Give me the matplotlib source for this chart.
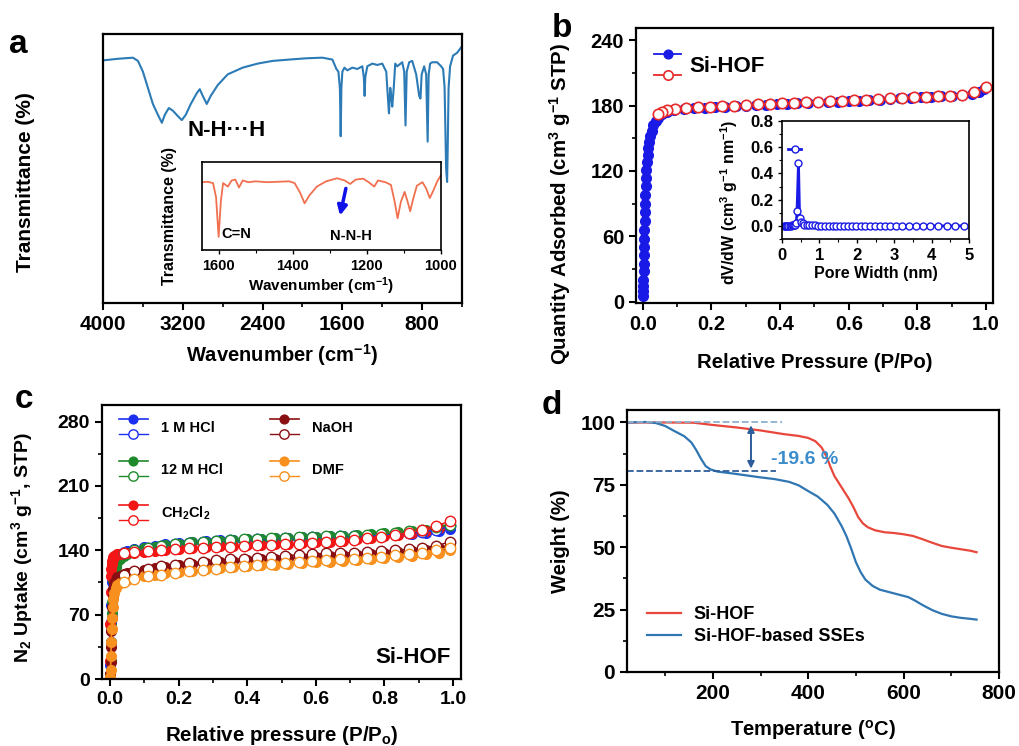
import matplotlib
matplotlib.use("Agg")
import matplotlib.pyplot as plt
from matplotlib.legend_handler import HandlerBase
from matplotlib.lines import Line2D
from matplotlib.ticker import MultipleLocator

plt.rcParams['font.family'] = ['Liberation Sans', 'DejaVu Sans']
plt.rcParams['font.weight'] = 'bold'
plt.rcParams['axes.labelweight'] = 'bold'
plt.rcParams['mathtext.fontset'] = 'custom'
plt.rcParams['mathtext.rm'] = 'Liberation Sans:bold'
plt.rcParams['mathtext.it'] = 'Liberation Sans:bold'
plt.rcParams['mathtext.bf'] = 'Liberation Sans:bold'
plt.rcParams['mathtext.default'] = 'rm'

# ---- panel a: FTIR ----
ftir_wn = [4000, 3850, 3700, 3650, 3600, 3550, 3500, 3450, 3410, 3380, 3340, 3300,
           3250, 3210, 3170, 3120, 3060, 3030, 3000, 2960, 2920, 2850, 2750, 2600,
           2450, 2300, 2100, 1950, 1800, 1700, 1660, 1640, 1625, 1617, 1610, 1600,
           1580, 1550, 1500, 1450, 1400, 1385, 1377, 1370, 1350, 1300, 1250, 1200,
           1160, 1150, 1133, 1120, 1110, 1100, 1085, 1070, 1050, 1000, 980, 967,
           955, 930, 900, 860, 830, 817, 805, 780, 760, 745, 735, 720, 700, 650,
           610, 590, 575, 560, 550, 545, 535, 520, 490, 450, 400]
ftir_t = [90.2, 90.8, 91.2, 90, 86, 80, 74, 70, 67, 70, 72.5, 71.5,
          69.5, 68, 70, 74, 78, 79.5, 77, 74, 77, 81, 85, 87.5,
          89, 90, 90.6, 91, 91.2, 90.5, 87, 86, 80, 62, 80, 86,
          87.5, 86.5, 87.5, 87, 88, 84, 77, 84, 88, 89, 88.5, 89,
          86, 80, 70.5, 80, 77, 73, 80, 89, 88, 89.5, 86, 66,
          86, 89.5, 90, 85, 77, 76, 85, 88, 85, 60, 85, 89, 89.5, 89.5,
          88, 87, 80, 50, 45, 55, 80, 88, 92, 93, 95.5]

inset_wn = [1645, 1630, 1615, 1607, 1600, 1594, 1588, 1575, 1565, 1555, 1545, 1535,
            1520, 1500, 1470, 1440, 1410, 1395, 1380, 1368, 1355, 1335, 1310, 1280,
            1260, 1245, 1230, 1210, 1195, 1180, 1170, 1150, 1135, 1125, 1117, 1108,
            1098, 1090, 1083, 1075, 1065, 1050, 1040, 1030, 1020, 1010, 1000]
inset_t = [77, 77.5, 76, 60, 15, 55, 76, 72, 79, 80, 71, 79,
           77, 78, 77, 77.5, 78, 76, 65, 53, 62, 72, 78, 81.5,
           79, 75, 80, 81, 77, 72, 79, 77, 74, 55, 36, 55,
           66, 55, 44, 58, 73, 77, 70, 59, 68, 78, 85]

# ---- panel b: N2 isotherm of Si-HOF ----
b_ads_p = [0.0005, 0.001, 0.0012, 0.0015, 0.002, 0.0025, 0.003, 0.0035, 0.004, 0.0045,
           0.005, 0.0055, 0.006, 0.007, 0.008, 0.009, 0.010, 0.012, 0.014, 0.016,
           0.019, 0.022, 0.026, 0.031, 0.037, 0.045, 0.055, 0.07, 0.09, 0.12,
           0.15, 0.18, 0.21, 0.24, 0.27, 0.30, 0.33, 0.36, 0.39, 0.42, 0.45, 0.48,
           0.51, 0.54, 0.57, 0.60, 0.63, 0.66, 0.69, 0.72, 0.75, 0.78, 0.81, 0.84,
           0.87, 0.90, 0.93, 0.96, 0.98, 0.995]
b_ads_q = [5, 10, 15, 20, 28, 35, 43, 50, 58, 66,
           74, 82, 90, 98, 106, 114, 121, 128, 135, 141,
           147, 152, 157, 162, 166, 169, 172, 174.5, 176, 177,
           177.5, 178, 178.5, 179, 179.5, 180, 180.3, 180.7, 181, 181.5, 182, 182.4,
           182.8, 183.2, 183.6, 184, 184.5, 185, 185.5, 186, 186.5, 187, 187.5, 188,
           188.5, 189, 190, 191, 192, 195]
b_des_p = [1.0, 0.965, 0.93, 0.895, 0.86, 0.825, 0.79, 0.755, 0.72, 0.685, 0.65,
           0.615, 0.58, 0.545, 0.51, 0.475, 0.44, 0.405, 0.37, 0.335, 0.30,
           0.265, 0.23, 0.195, 0.16, 0.125, 0.095, 0.07, 0.055, 0.045]
b_des_q = [197, 192, 190, 189, 188.5, 188, 187.5, 187, 186.5, 186, 185.5,
           185, 184.5, 184, 183.5, 183, 182.5, 182, 181.5, 181, 180.5,
           180, 179.5, 179, 178.5, 178, 177, 176, 174, 172]

pore_w = [0.05, 0.08, 0.11, 0.14, 0.17, 0.2, 0.23, 0.26, 0.29, 0.32, 0.35, 0.38,
          0.40, 0.44, 0.47, 0.5, 0.55, 0.6, 0.66, 0.72, 0.8, 0.88, 0.96, 1.05,
          1.15, 1.25, 1.35, 1.45, 1.55, 1.65, 1.76, 1.87, 1.98, 2.1, 2.22, 2.35,
          2.48, 2.62, 2.76, 2.9, 3.06, 3.22, 3.4, 3.58, 3.77, 3.97, 4.18, 4.4,
          4.63, 4.87]
pore_dv = [0, 0, 0, 0, 0, 0, 0, 0.005, 0.005, 0.01, 0.01, 0.02,
           0.11, 0.48, 0.06, 0.03, 0.02, 0.01, 0.01, 0.01, 0.005, 0.005, 0, 0,
           0, 0, 0, 0, 0, 0, 0, 0, 0, 0, 0, 0,
           0, 0, 0, 0, 0, 0, 0, 0, 0, 0, 0, 0,
           0, 0]

# ---- panel c: stability isotherms ----
c_ads_p = [0.0005, 0.001, 0.002, 0.003, 0.004, 0.005, 0.006, 0.008, 0.010, 0.013,
           0.017, 0.022, 0.03, 0.04, 0.05, 0.07, 0.10, 0.13, 0.16, 0.20,
           0.24, 0.28, 0.32, 0.36, 0.40, 0.44, 0.48, 0.52, 0.56, 0.60,
           0.64, 0.68, 0.72, 0.76, 0.80, 0.84, 0.88, 0.92, 0.96, 0.99]
c_des_p = [0.99, 0.95, 0.91, 0.87, 0.83, 0.79, 0.75, 0.71, 0.67, 0.63, 0.59, 0.55,
           0.51, 0.47, 0.43, 0.39, 0.35, 0.31, 0.27, 0.23, 0.19, 0.15, 0.11, 0.07, 0.04]

hcl1_ads = [2, 15, 40, 62, 80, 95, 105, 115, 121, 126, 130, 133, 136, 138, 139.5,
            141.5, 143.5, 145, 146.5, 148, 149, 150, 150.8, 151.5, 152, 152.5, 153,
            153.5, 154, 154.5, 155, 155.5, 156, 156.5, 157, 157.5, 158, 159, 160.5, 163]
hcl1_des = [166, 162, 160, 158.5, 157.5, 156.5, 156, 155.5, 155, 154.5, 154, 153.5,
            153, 152.5, 152, 151.5, 151, 150, 149, 148, 146.5, 145, 143, 140.5, 137]
hcl12_ads = [0, 5, 20, 40, 58, 72, 84, 98, 108, 116, 122, 127, 131, 134, 136,
             139, 142, 144, 145.5, 147, 148.5, 149.5, 150.5, 151.5, 152, 152.5, 153,
             153.5, 154, 154.5, 155, 156, 156.5, 157.5, 158.5, 160, 161, 162.5, 164.5, 167]
hcl12_des = [168, 165, 162.5, 160.5, 159, 158, 157, 156, 155.5, 155, 154.5, 154,
             153.5, 153, 152.5, 152, 151, 150, 149, 148, 146.5, 145, 143, 140.5, 137]
ch2cl2_ads = [20, 60, 95, 112, 120, 125, 128, 131, 133, 134, 135, 135.5, 136, 136.5, 137,
              137.5, 138.5, 139.5, 140.5, 141.5, 142.5, 143.5, 144.5, 145, 145.5, 146, 146.5,
              147, 147.5, 148.5, 149.5, 150.5, 152, 153.5, 155, 156.5, 158.5, 161, 164, 169]
ch2cl2_des = [172, 166, 162, 159, 156.5, 154.5, 153, 151.5, 150, 149, 148, 147,
              146.5, 146, 145.5, 145, 144, 143.5, 143, 142, 141, 140, 139, 138, 137]
naoh_ads = [0, 5, 18, 35, 52, 66, 78, 90, 98, 104, 108, 110.5, 112.5, 114, 115,
            117, 119, 120.5, 122, 123.5, 125, 126, 127, 128, 129, 130, 131,
            131.5, 132, 133, 133.5, 134.5, 135, 136, 137, 138, 139, 140.5, 142.5, 146]
naoh_des = [149, 145, 142.5, 141, 140, 139, 138, 137.5, 137, 136.5, 136, 135,
            134, 133, 132, 131, 130, 129, 127.5, 126, 124.5, 122.5, 120, 117, 113]
dmf_ads = [0, 2, 10, 25, 40, 54, 66, 78, 87, 94, 99, 102, 104.5, 106.5, 108,
           110, 112, 113.5, 115, 116.5, 118, 119.5, 120.5, 121.5, 122.5, 123.5, 124.5,
           125, 126, 127, 127.5, 128.5, 129.5, 130.5, 131.5, 132.5, 134, 135.5, 137.5, 140]
dmf_des = [143, 140, 137.5, 136, 134.5, 133, 132, 131, 130, 129, 128, 127,
           126, 125, 124, 123, 121.5, 120, 118.5, 117, 115.5, 113.5, 111.5, 109, 106]

c_labels = ["1 M HCl", "12 M HCl", "CH$_2$Cl$_2$", "NaOH", "DMF"]
c_colors = ["#1c2ff0", "#1f8a2c", "#f21616", "#8a0f12", "#f7901e"]
c_ads = [hcl1_ads, hcl12_ads, ch2cl2_ads, naoh_ads, dmf_ads]
c_des = [hcl1_des, hcl12_des, ch2cl2_des, naoh_des, dmf_des]

# ---- panel d: TGA ----
tga_t_hof = [20, 100, 160, 200, 250, 300, 350, 380, 400, 415, 428, 438, 446, 455,
             465, 475, 485, 495, 505, 515, 525, 540, 560, 580, 600, 620, 640, 660,
             680, 700, 720, 740, 753]
tga_w_hof = [100, 100, 99.9, 99, 98, 96.8, 95.3, 94.6, 93.8, 92.5, 90, 86.5, 82.5, 78.5,
             75.5, 72.5, 69.5, 66, 62, 59.5, 58, 56.8, 56, 55.7, 55.2, 54.5, 53.2, 51.8,
             50.5, 49.8, 49.2, 48.6, 48]
tga_t_sse = [20, 60, 80, 100, 120, 140, 155, 165, 175, 185, 195, 210, 240, 270, 300,
             330, 360, 380, 400, 420, 440, 455, 470, 480, 490, 500, 510, 520, 535, 550,
             570, 590, 610, 625, 640, 660, 680, 700, 720, 740, 753]
tga_w_sse = [100, 100.2, 99.8, 98.6, 96.5, 94.5, 92, 89, 85.5, 82.5, 81.2, 80.3, 79.6,
             78.8, 78, 77.3, 76.2, 74.8, 72.5, 70.3, 67, 63.5, 58.5, 54.5, 49.5, 44, 40,
             37, 34.5, 33, 32, 31, 30, 28.5, 26.8, 24.8, 23.3, 22.3, 21.7, 21.3, 21]
loss_top = 100
loss_bottom = 80.4


class PairHandler(HandlerBase):
    '''Draws the adsorption and desorption keys stacked in one legend entry'''
    def __init__(self, gap=1.2):
        super().__init__()
        self.gap = gap

    def create_artists(self, legend, orig_handle, xdescent, ydescent,
                       width, height, fontsize, trans):
        arts = []
        x0, x1 = -xdescent, width - xdescent
        for i, h in enumerate(orig_handle):
            y = -ydescent + height * (0.5 + self.gap * (0.5 - i))
            ln = Line2D([x0, x1], [y, y], color=h.get_color(), lw=h.get_linewidth())
            mk = Line2D([(x0 + x1) / 2], [y], ls='', marker='o',
                        ms=h.get_markersize() * 0.9, mfc=h.get_markerfacecolor(),
                        mec=h.get_markeredgecolor(), mew=h.get_markeredgewidth())
            for a in (ln, mk):
                a.set_transform(trans)
                arts.append(a)
        return arts


def style_axes(ax, size=14):
    for sp in ax.spines.values():
        sp.set_linewidth(1.6)
    ax.tick_params(which='major', direction='out', length=5, width=1.5, labelsize=size)
    ax.tick_params(which='minor', direction='out', length=3, width=1.2)


def style_inset(ax, size):
    for sp in ax.spines.values():
        sp.set_linewidth(1.2)
    ax.tick_params(which='major', direction='out', length=3, width=1, labelsize=size)
    ax.tick_params(which='minor', direction='out', length=2, width=0.8)


fig = plt.figure(figsize=(10.2, 7.46), dpi=100)

# panel a
ax_a = fig.add_axes([0.101, 0.5938, 0.352, 0.3606])
ax_a.plot(ftir_wn, ftir_t, color="#2c7bb6", lw=1.5)
ax_a.set_xlim(4000, 400)
ax_a.set_ylim(0, 100)
ax_a.set_xticks([4000, 3200, 2400, 1600, 800])
ax_a.xaxis.set_minor_locator(MultipleLocator(400))
ax_a.set_yticks([])
style_axes(ax_a, 15)
ax_a.set_xlabel("Wavenumber (cm$^{-1}$)", fontsize=14.5, labelpad=6)
ax_a.set_ylabel("Transmittance (%)", fontsize=15)
ax_a.yaxis.set_label_coords(-0.19, 0.45)
ax_a.text(3150, 64, "N-H\u00b7\u00b7\u00b7H", fontsize=16, fontweight='bold',
          ha='left', va='center')

ax_ai = fig.add_axes([0.198, 0.6649, 0.2343, 0.118])
ax_ai.plot(inset_wn, inset_t, color="#f07050", lw=1.3)
ax_ai.set_xlim(1645, 1000)
ax_ai.set_ylim(0, 100)
ax_ai.set_xticks([1600, 1400, 1200, 1000])
ax_ai.xaxis.set_minor_locator(MultipleLocator(100))
ax_ai.set_yticks([])
style_inset(ax_ai, 10.5)
ax_ai.set_xlabel("Wavenumber (cm$^{-1}$)", fontsize=11, labelpad=2)
ax_ai.set_ylabel("Transmittance (%)", fontsize=11.5)
ax_ai.yaxis.set_label_coords(-0.105, 0.386)
ax_ai.text(1592, 18, "C=N", fontsize=10.5, fontweight='bold', ha='left', va='center')
ax_ai.text(1300, 16, "N-N-H", fontsize=10.5, fontweight='bold', ha='left', va='center')
ax_ai.annotate("", xy=(1274, 36), xytext=(1255, 73),
               arrowprops=dict(arrowstyle='-|>', color='#1010e8', lw=2.5,
                               mutation_scale=14))

# panel b
ax_b = fig.add_axes([0.6235, 0.5938, 0.35, 0.3686])
ads_b, = ax_b.plot(b_ads_p, b_ads_q, color="#1a1ae6", lw=1.3, marker='o', ms=7,
                   mfc="#1a1ae6", mec="#1a1ae6")
des_b, = ax_b.plot(b_des_p, b_des_q, color="#e82a2a", lw=1.3, marker='o', ms=7.5,
                   mfc='white', mec="#e82a2a", mew=1.2)
ax_b.set_xlim(-0.02, 1.02)
ax_b.set_ylim(-1, 251)
ax_b.set_yticks([0, 60, 120, 180, 240])
ax_b.yaxis.set_minor_locator(MultipleLocator(30))
ax_b.xaxis.set_minor_locator(MultipleLocator(0.1))
ax_b.set_xticks([0, 0.2, 0.4, 0.6, 0.8, 1.0])
ax_b.set_xticklabels(["0.0", "0.2", "0.4", "0.6", "0.8", "1.0"])
style_axes(ax_b, 14.5)
ax_b.set_xlabel("Relative Pressure (P/Po)", fontsize=14.7, labelpad=14)
ax_b.set_ylabel("Quantity Adsorbed (cm$^3$ g$^{-1}$ STP)", fontsize=14.7)
ax_b.yaxis.set_label_coords(-0.175, 0.36)
ax_b.legend([(ads_b, des_b)], ["Si-HOF"], handler_map={tuple: PairHandler(1.3)},
            loc='upper left', bbox_to_anchor=(-0.005, 0.97), frameon=False,
            fontsize=16, handlelength=1.2, handletextpad=0.4)

ax_bi = fig.add_axes([0.7667, 0.6796, 0.1833, 0.1582])
pore_line, = ax_bi.plot(pore_w, pore_dv, color="#1a1ae6", lw=2, marker='o', ms=5,
                        mfc='white', mec="#1a1ae6", mew=1)
ax_bi.set_xlim(0, 5)
ax_bi.set_ylim(-0.1, 0.8)
ax_bi.set_xticks([0, 1, 2, 3, 4, 5])
ax_bi.set_yticks([0, 0.2, 0.4, 0.6, 0.8])
ax_bi.set_yticklabels(["0.0", "0.2", "0.4", "0.6", "0.8"])
ax_bi.xaxis.set_minor_locator(MultipleLocator(0.5))
ax_bi.yaxis.set_minor_locator(MultipleLocator(0.1))
style_inset(ax_bi, 12)
ax_bi.set_xlabel("Pore Width (nm)", fontsize=11.5, labelpad=2)
ax_bi.set_ylabel("dV/dW (cm$^3$ g$^{-1}$ nm$^{-1}$)", fontsize=11.5)
ax_bi.yaxis.set_label_coords(-0.225, 0.31)
ax_bi.legend([pore_line], [""], loc='upper left', bbox_to_anchor=(0.0, 0.86),
             frameon=False, handlelength=1.0, handletextpad=0, borderaxespad=0)

# panel c
ax_c = fig.add_axes([0.1, 0.0898, 0.352, 0.3673])
c_handles = []
for lab, col, ya, yd in zip(c_labels, c_colors, c_ads, c_des):
    la, = ax_c.plot(c_ads_p, ya, color=col, lw=1.2, marker='o', ms=7,
                    mfc=col, mec=col, zorder=2)
    ld, = ax_c.plot(c_des_p, yd, color=col, lw=1.0, marker='o', ms=7.5,
                    mfc='white', mec=col, mew=1.0, zorder=3)
    c_handles.append((la, ld))
ax_c.set_xlim(-0.023, 1.023)
ax_c.set_ylim(0, 298)
ax_c.set_yticks([0, 70, 140, 210, 280])
ax_c.yaxis.set_minor_locator(MultipleLocator(35))
ax_c.xaxis.set_minor_locator(MultipleLocator(0.1))
ax_c.set_xticks([0, 0.2, 0.4, 0.6, 0.8, 1.0])
ax_c.set_xticklabels(["0.0", "0.2", "0.4", "0.6", "0.8", "1.0"])
style_axes(ax_c, 14)
ax_c.set_xlabel("Relative pressure (P/P$_o$)", fontsize=14.8, labelpad=12)
ax_c.set_ylabel("N$_2$ Uptake (cm$^3$ g$^{-1}$, STP)", fontsize=14)
ax_c.yaxis.set_label_coords(-0.187, 0.48)
ax_c.legend(c_handles, c_labels, handler_map={tuple: PairHandler(1.5)}, ncol=2,
            loc='upper left', bbox_to_anchor=(0.01, 0.99), frameon=False,
            fontsize=10.5, handlelength=2.0, handletextpad=0.9,
            labelspacing=1.9, columnspacing=3.2)
ax_c.text(0.97, 0.08, "Si-HOF", transform=ax_c.transAxes, fontsize=16,
          fontweight='bold', ha='right', va='center')

# panel d
ax_d = fig.add_axes([0.6147, 0.0992, 0.3647, 0.3512])
ax_d.plot(tga_t_hof, tga_w_hof, color="#e8473c", lw=1.6, label="Si-HOF")
ax_d.plot(tga_t_sse, tga_w_sse, color="#2f76b3", lw=1.6, label="Si-HOF-based SSEs")
ax_d.plot([20, 345], [loss_top, loss_top], ls='--', color="#8fb0cc", lw=1.3)
ax_d.plot([20, 333], [loss_bottom, loss_bottom], ls='--', color="#2d5e9b", lw=1.3)
ax_d.annotate("", xy=(280, loss_bottom), xytext=(280, loss_top),
              arrowprops=dict(arrowstyle='<|-|>', color="#2d5e9b", lw=1.4,
                              mutation_scale=10))
ax_d.text(322, 85, "-19.6 %", color="#3a8ccb", fontsize=14, fontweight='bold',
          ha='left', va='center')
ax_d.set_xlim(20, 800)
ax_d.set_ylim(0, 105)
ax_d.set_xticks([200, 400, 600, 800])
ax_d.set_yticks([0, 25, 50, 75, 100])
ax_d.xaxis.set_minor_locator(MultipleLocator(100))
ax_d.yaxis.set_minor_locator(MultipleLocator(12.5))
style_axes(ax_d, 15)
ax_d.set_xlabel("Temperature ($^o$C)", fontsize=14.5, labelpad=11)
ax_d.set_ylabel("Weight (%)", fontsize=14.5)
ax_d.yaxis.set_label_coords(-0.153, 0.5)
ax_d.legend(loc='lower left', bbox_to_anchor=(0.01, 0.04), frameon=False,
            fontsize=13, handlelength=1.9, handletextpad=0.7, labelspacing=0.3)

# panel letters
for lab, x, y in [("a", 0.018, 0.94), ("b", 0.551, 0.962),
                  ("c", 0.024, 0.464), ("d", 0.541, 0.456)]:
    fig.text(x, y, lab, fontsize=24, fontweight='bold', ha='center', va='center')

fig.savefig("out.png", dpi=100)
